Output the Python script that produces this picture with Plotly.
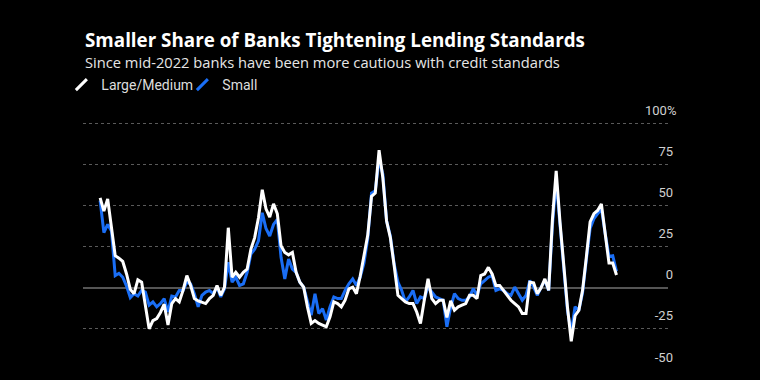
import pandas as pd
import plotly.graph_objects as go

# Quarterly survey dates (first: Apr 1990, last: Jul 2024)
dates = pd.date_range("1990-04-01", periods=138, freq="QS")

large_medium = [
    54.6, 46.6, 54.0, 37.0, 19.5, 18.0, 16.0, 8.4, -1.0, -3.6,
    4.8, 3.4, -9.6, -25.0, -20.0, -18.7, -15.0, -10.0, -22.7, -9.6,
    -6.6, -8.6, -1.6, 7.4, 1.4, -6.6, -8.0, -8.6, -9.6, -6.6,
    -4.6, 1.4, -4.6, 0.4, 36.5, 6.4, 9.4, 6.4, 9.4, 11.4,
    23.5, 30.5, 42.6, 59.6, 48.0, 43.0, 51.0, 45.0, 25.5, 21.5,
    20.0, 21.5, 9.4, 3.4, 0.4, -11.6, -21.7, -20.0, -21.7, -22.7,
    -23.7, -17.7, -8.6, -9.6, -11.6, -7.6, -0.6, 0.4, -3.6, 7.0,
    19.0, 32.0, 55.6, 57.6, 83.7, 66.7, 40.6, 30.5, 13.5, -4.6,
    -6.6, -8.6, -9.6, -9.6, -14.7, -21.7, -7.6, 5.4, -6.6, -9.6,
    -7.6, -7.6, -18.0, -8.0, -13.6, -11.6, -10.6, -9.6, -4.6, -4.6,
    -6.6, 7.4, 8.4, 12.4, 8.4, 1.4, 1.4, -1.6, -4.6, -7.6,
    -9.6, -11.6, -15.7, -15.7, 3.4, 3.0, -3.6, 0.0, 5.4, -1.6,
    41.6, 71.1, 40.0, 12.0, -12.0, -32.5, -17.0, -13.7, -1.6, 18.5,
    40.0, 45.0, 47.0, 51.0, 33.0, 15.0, 15.0, 7.8,
]

small = [
    53.0, 33.5, 38.5, 34.5, 7.4, 8.8, 6.4, 1.0, -6.0, -3.6,
    -5.0, -1.6, -2.6, -10.6, -8.6, -11.6, -9.6, -6.6, -14.7, -5.0,
    -5.6, -1.6, -1.6, 3.4, 2.4, -3.6, -11.6, -4.6, -2.6, -1.6,
    -3.6, 0.4, -5.6, -0.6, 15.5, 3.4, 6.4, 1.4, 2.4, 9.4,
    20.5, 23.5, 28.5, 45.6, 36.0, 31.5, 38.5, 41.6, 18.5, 5.4,
    17.5, 11.4, 9.4, 3.4, 0.4, -7.6, -16.7, -3.6, -15.7, -12.7,
    -19.7, -11.6, -5.6, -6.6, -6.6, -1.6, 2.4, 5.4, 1.4, 6.4,
    15.0, 30.0, 57.6, 59.0, 78.0, 69.0, 40.6, 31.5, 14.5, 3.4,
    -1.6, -8.6, -5.6, -1.6, -9.6, -5.6, -6.6, 0.4, -2.6, -5.6,
    -6.6, -7.6, -23.7, -12.0, -3.6, -6.6, -7.6, -7.6, -5.6, -0.6,
    -4.6, 2.4, 4.4, 6.4, 7.4, -1.6, -0.6, -1.6, -3.6, -4.6,
    0.4, -3.6, -7.6, -4.6, 4.4, 0.4, -4.6, 0.4, 4.4, -1.6,
    38.0, 65.0, 38.0, 10.0, -14.0, -27.0, -11.6, -13.7, -3.0, 17.0,
    36.0, 42.0, 45.0, 48.0, 33.0, 19.0, 19.5, 10.0,
]

series_names = ["Large/Medium", "Small"]
y_ticks = [-25, 0, 25, 50, 75, 100]
y_tick_text = ["-25", "0", "25", "50", "75", ""]   # top label drawn with its % sign below
top_label = "100%"
bottom_tick = [-50]

WHITE = "#ffffff"
BLUE = "#1a6ef5"
BG = "#000000"
FONT = "Roboto"
TITLE_FONT = "Open Sans"
Y_RANGE = [-50, 102]

fig = go.Figure()
fig.add_trace(go.Scatter(x=dates, y=small, mode="lines", name=series_names[1],
                         line=dict(color=BLUE, width=3), showlegend=False))
fig.add_trace(go.Scatter(x=dates, y=large_medium, mode="lines", name=series_names[0],
                         line=dict(color=WHITE, width=3), showlegend=False))

# legend entries with slash icons
for name, col in [(series_names[0], WHITE), (series_names[1], BLUE)]:
    fig.add_trace(go.Scatter(x=[None], y=[None], mode="markers", name=name, yaxis="y2",
                             marker=dict(symbol="line-ne", size=11,
                                         line=dict(color=col, width=3))))

tick_common = dict(ticklabelposition="inside", ticklabeloverflow="allow",
                   ticklabelshift=-13, ticklabelstandoff=-8, automargin=False,
                   tickfont=dict(size=13, color="#d0d0d0", family=FONT),
                   ticks="", showline=False)

fig.update_layout(
    width=760, height=380,
    paper_bgcolor=BG, plot_bgcolor=BG,
    margin=dict(l=83, r=92, t=119.7, b=10, autoexpand=False),
    font=dict(family=FONT, color="#d9d9d9"),
    xaxis=dict(visible=False, range=["1989-02-10", "2027-12-01"], automargin=False),
    yaxis=dict(range=Y_RANGE, side="right", tickvals=y_ticks, ticktext=y_tick_text,
               showgrid=True, gridcolor="#5a5a5a", griddash="dot", gridwidth=1,
               zeroline=True, zerolinecolor="#555555", zerolinewidth=1.5,
               **tick_common),
    yaxis2=dict(range=Y_RANGE, overlaying="y", side="right", tickvals=bottom_tick,
                ticktext=["-50"], showgrid=False, zeroline=False, **tick_common),
    legend=dict(orientation="h", x=-0.037, xanchor="left", y=1.14, yanchor="middle",
                font=dict(size=14, color="#dddddd"), bgcolor="rgba(0,0,0,0)",
                itemwidth=30, traceorder="normal", entrywidth=76),
    showlegend=True,
    annotations=[
        dict(text="<b>Smaller Share of Banks Tightening Lending Standards</b>",
             xref="paper", yref="paper", x=0, y=1.319, xanchor="left", yanchor="middle",
             showarrow=False, font=dict(size=18.8, color="#ffffff", family=TITLE_FONT)),
        dict(text="Since mid-2022 banks have been more cautious with credit standards",
             xref="paper", yref="paper", x=0, y=1.231, xanchor="left", yanchor="middle",
             showarrow=False, font=dict(size=14.7, color="#e6e6e6", family=TITLE_FONT)),
        dict(text=top_label, xref="paper", yref="y", x=1, y=y_ticks[-1], xanchor="right",
             yanchor="middle", yshift=13, xshift=10, showarrow=False,
             font=dict(size=13, color="#d0d0d0", family=FONT)),
    ],
)

fig.write_html("out.html",
               config={"displayModeBar": False},
               post_script="document.body.style.margin='0px';"
                           "document.body.style.backgroundColor='#000000';")
